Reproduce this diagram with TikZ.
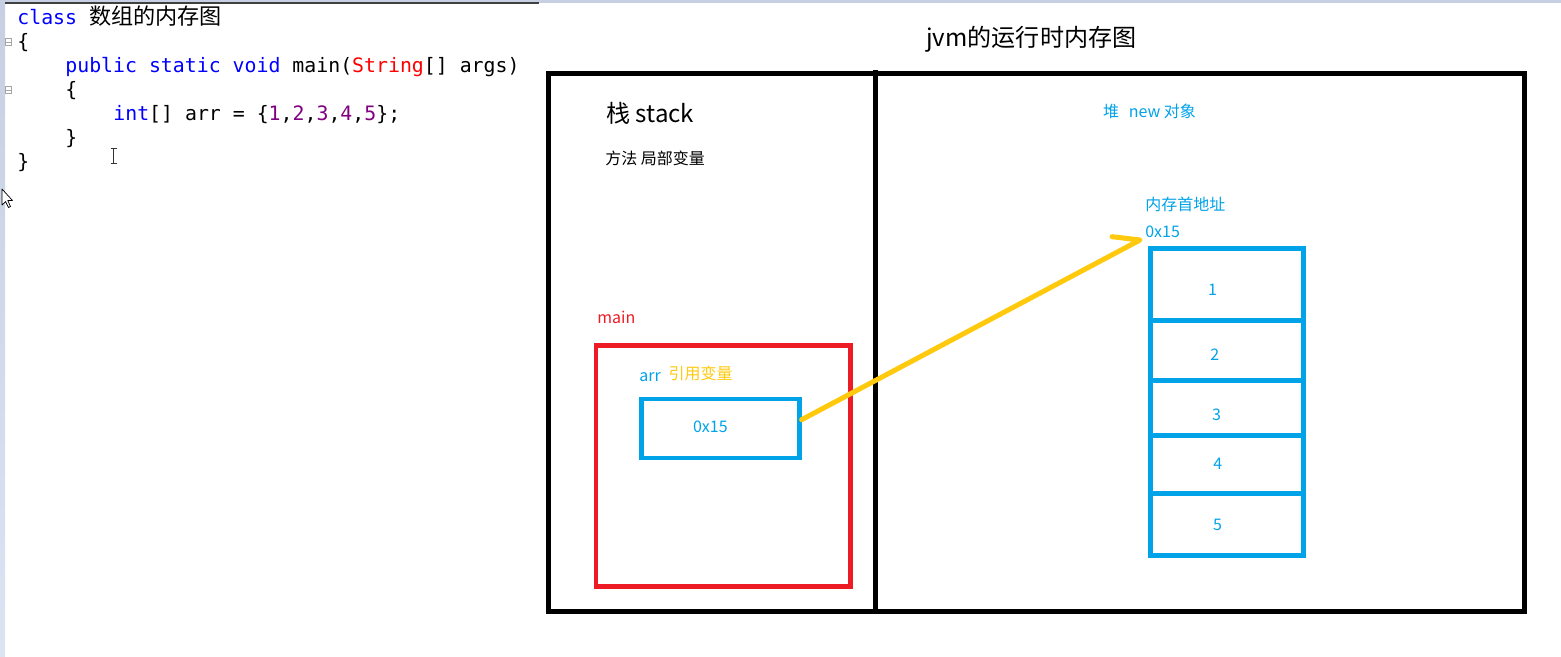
\documentclass[tikz,border=0pt]{standalone}
\usepackage{fontspec}
\setmainfont{Noto Sans CJK SC}
\setmonofont{DejaVu Sans Mono}
\newfontfamily\cjkcode{Noto Sans CJK SC}
\usepackage{xcolor}
\usetikzlibrary{positioning, fit, calc}

\definecolor{kwblue}{RGB}{0,0,255}
\definecolor{strred}{RGB}{255,0,0}
\definecolor{numpurple}{RGB}{128,0,128}
\definecolor{paintblue}{RGB}{0,162,232}
\definecolor{paintred}{RGB}{237,28,36}
\definecolor{paintyellow}{RGB}{255,201,14}
\definecolor{winbar}{RGB}{198,208,226}
\definecolor{winbarlow}{RGB}{220,228,242}

\begin{document}
\begin{tikzpicture}[
    x=0.02cm, y=-0.02cm,
    code/.style={anchor=base west, inner sep=0pt,
      font=\ttfamily\fontsize{11.3}{13}\selectfont},
    fold/.style={draw=black!35, line width=0.4pt, inner sep=0pt,
      minimum size=3.6pt,
      path picture={\draw[black!35, line width=0.4pt]
        (path picture bounding box.west) -- (path picture bounding box.east);}},
    txt/.style={anchor=base west, inner sep=0pt,
      font=\fontsize{9.1}{11}\selectfont},
    annot/.style={txt, text=paintblue},
    bigtxt/.style={anchor=base west, inner sep=0pt,
      font=\fontsize{13.7}{16}\selectfont},
    zone/.style={draw=black, line width=2.85pt, inner sep=0pt},
    mbox/.style={draw=paintred, line width=2.5pt, inner sep=0pt},
    rbox/.style={draw=paintblue, line width=2.6pt, inner sep=0pt},
    cell/.style={draw=paintblue, line width=2.85pt, inner sep=0pt},
    ptr/.style={draw=paintyellow, line width=2.85pt,
      line cap=round, line join=round}
  ]
  \useasboundingbox (0,0) rectangle (1561,656);

  % -- editor window chrome --
  \fill[winbar] (0,0) rectangle (1561,3.3);
  \shade[top color=winbar, bottom color=winbarlow] (0,0) rectangle (5,656);
  \draw[black!75, line width=0.6pt] (5,3) -- (539,3);

  % -- source code --
  \node[code] (l1) at (17,24.5)
    {\textcolor{kwblue}{class} {\cjkcode\fontsize{12.6}{14}\selectfont 数组的内存图}};
  \node[code] (l2) at (17,48.5) {\{};
  \node[code] (l3) at (65,72) {\textcolor{kwblue}{public static void} main(\textcolor{strred}{String}[] args)};
  \node[code] (l4) at (65,96) {\{};
  \node[code] (l5) at (113,120)
    {\textcolor{kwblue}{int}[] arr = \{\textcolor{numpurple}{1},\textcolor{numpurple}{2},\textcolor{numpurple}{3},\textcolor{numpurple}{4},\textcolor{numpurple}{5}\};};
  \node[code] (l6) at (65,144) {\}};
  \node[code] (l7) at (17,168.5) {\}};

  \node[fold] (f1) at (8.5,42) {};
  \node[fold] (f2) at (8.5,90) {};

  % text cursor and mouse pointer
  \draw[black!80, line width=0.5pt] (110.5,148) -- (116.5,148)
    (113.5,148) -- (113.5,163) (110.5,163) -- (116.5,163);
  \draw[black, line width=0.4pt, fill=white, line join=round]
    (2,189) -- (2,205) -- (5.5,201.5) -- (8.5,207.5) -- (10.5,206.5)
    -- (7.8,200.5) -- (12.5,200.5) -- cycle;

  % -- jvm frame --
  \node[bigtxt] (title) at (926,46.5) {jvm的运行时内存图};
  \node[zone, fit={(548.3,73.5) (1524,611)}] (jvm) {};
  \coordinate (divtop) at (875.5,70);
  \draw[zone] (divtop) -- (divtop |- jvm.south);

  % -- stack side --
  \node[bigtxt] (stack) at (606,122.7) {栈 stack};
  \node[txt] (stacknote) at (605,164) {方法 局部变量};
  \node[txt, text=paintred] (mainlbl) at (597,323) {main};
  \node[mbox, fit={(595.7,345.5) (850.5,586.5)}] (mainframe) {};
  \node[annot] (arrlbl) at (639,381.5) {arr};
  \node[txt, text=paintyellow] (reflbl) at (668.3,379.5) {引用变量};
  \node[rbox, fit={(641.7,398.8) (799.3,458.2)}] (ref) {};
  \node[annot] (refval) at (692.7,432.5) {0x15};

  % -- heap side --
  \node[annot] (heap) at (1102.7,117.3) {堆\ \ \,new 对象};
  \node[annot] (addrlbl) at (1145,210) {内存首地址};
  \node[annot] (addr) at (1145,237) {0x15};
  \foreach \i/\t/\b in {1/248/320, 2/320/380.5, 3/380.5/435,
                        4/435/493.5, 5/493.5/555.5}
    \node[cell, fit={(1150.5,\t) (1303.3,\b)}] (c\i) {};
  \foreach \i/\x/\y in {1/1207.7/295, 2/1210/360.7, 3/1211.7/420,
                        4/1213/469.3, 5/1212.7/530}
    \node[annot] (n\i) at (\x,\y) {\i};

  % -- reference pointer --
  \coordinate (tip) at (1140,240);
  \coordinate (hook) at (1112,236.7);
  \draw[ptr] ([yshift=5pt]ref.east) -- (tip) -- (hook);
\end{tikzpicture}
\end{document}
